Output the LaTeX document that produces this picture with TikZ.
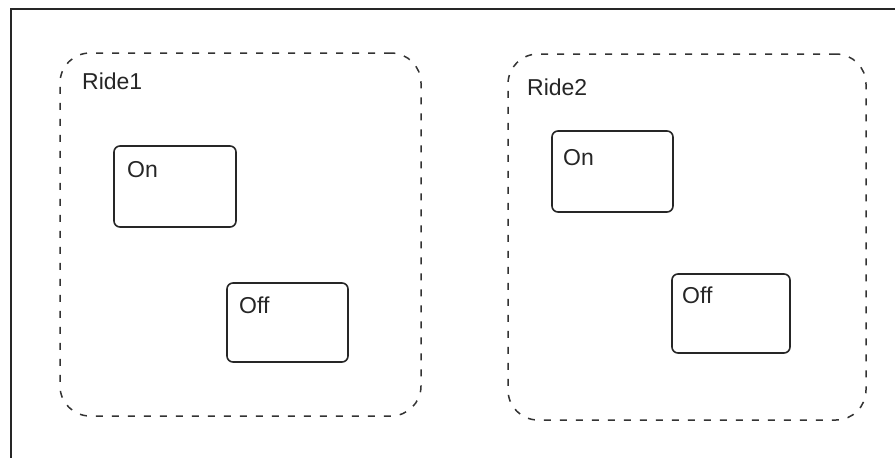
\documentclass[tikz,border=0pt]{standalone}
\usepackage{fontspec}
\setmainfont{Liberation Sans}
\begin{document}
\begin{tikzpicture}[x=1pt,y=-1pt,
  framerule/.style={line width=2pt,draw=black!85},
  ridebox/.style={draw=black!80,line width=1.5pt,dash pattern=on 7pt off 9pt,rounded corners=30pt,inner sep=0pt},
  statebox/.style={draw=black!85,line width=1.6pt,rounded corners=6pt,inner sep=0pt},
  lbl/.style={anchor=base west,inner sep=0pt,font=\fontsize{23}{27}\selectfont,text=black!85}]
\useasboundingbox[fill=white] (0,0) rectangle (895,458);
% frame
\coordinate (fbl) at (11,460);
\coordinate (ftl) at (11,9);
\coordinate (ftr) at (897,9);
\draw[framerule] (fbl) -- (ftl) -- (ftr);
% Ride1
\node[ridebox,minimum width=361pt,minimum height=363pt] (ride1) at (240.5,234.5) {};
\node[lbl] (ride1lbl) at (82,89) {Ride1};
\node[statebox,minimum width=122pt,minimum height=81pt] (on1) at (175,186.5) {};
\node[lbl] (on1lbl) at (127,177) {On};
\node[statebox,minimum width=121pt,minimum height=79pt] (off1) at (287.5,322.5) {};
\node[lbl] (off1lbl) at (239,313) {Off};
% Ride2
\node[ridebox,minimum width=358pt,minimum height=366pt] (ride2) at (687,237) {};
\node[lbl] (ride2lbl) at (527,95) {Ride2};
\node[statebox,minimum width=121pt,minimum height=81pt] (on2) at (612.5,171.5) {};
\node[lbl] (on2lbl) at (563,165) {On};
\node[statebox,minimum width=118pt,minimum height=79pt] (off2) at (731,313.5) {};
\node[lbl] (off2lbl) at (682,303) {Off};
\end{tikzpicture}
\end{document}
